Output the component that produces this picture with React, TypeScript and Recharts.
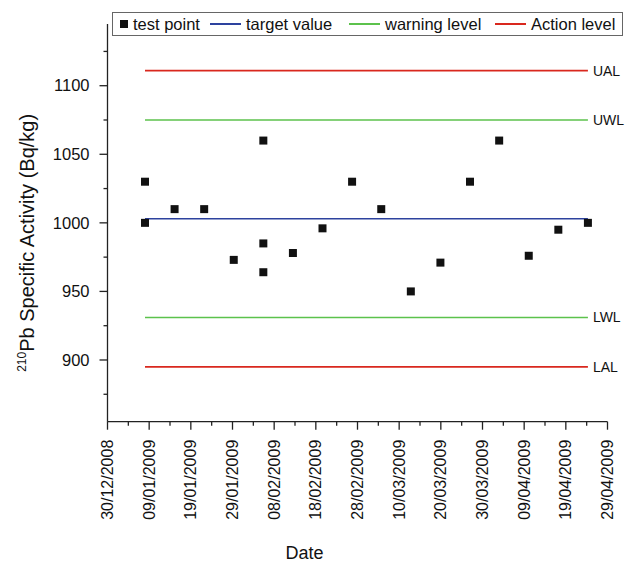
import React from 'react';
import { ComposedChart, Line, Scatter, XAxis, YAxis, Legend, Label } from 'recharts';

// days counted from 30/12/2008
const xMajorTicks = [0, 10, 20, 30, 40, 50, 60, 70, 80, 90, 100, 110, 120];
const xMinorTicks = [5, 15, 25, 35, 45, 55, 65, 75, 85, 95, 105, 115];
const xTickLabels = [
  '30/12/2008', '09/01/2009', '19/01/2009', '29/01/2009', '08/02/2009', '18/02/2009', '28/02/2009',
  '10/03/2009', '20/03/2009', '30/03/2009', '09/04/2009', '19/04/2009', '29/04/2009',
];
const yTicks = [875, 900, 925, 950, 975, 1000, 1025, 1050, 1075, 1100, 1125];

const testDays = [9, 9, 16.1, 23.2, 30.3, 37.4, 37.4, 37.4, 44.5, 51.6, 58.7, 65.7, 72.8, 79.9, 87, 94, 101.1, 108.2, 115.3];
const testValues = [1030, 1000, 1010, 1010, 973, 1060, 985, 964, 978, 996, 1030, 1010, 950, 971, 1030, 1060, 976, 995, 1000];

const targetValue = 1003;
const warningUpper = 1075;
const warningLower = 931;
const actionUpper = 1111;
const actionLower = 895;

const BLUE = '#2d429e';
const GREEN = '#5cc24c';
const RED = '#d9281e';
const FONT = '"Liberation Sans", Arial, sans-serif';

const points = testDays.map((d, i) => ({ day: d, value: testValues[i] }));
const levelRows = testDays.map((d) => ({
  day: d,
  target: targetValue,
  uwl: warningUpper,
  lwl: warningLower,
  ual: actionUpper,
  lal: actionLower,
}));

const levelSeries = [
  { key: 'ual', color: RED, tag: 'UAL' },
  { key: 'uwl', color: GREEN, tag: 'UWL' },
  { key: 'target', color: BLUE, tag: '' },
  { key: 'lwl', color: GREEN, tag: 'LWL' },
  { key: 'lal', color: RED, tag: 'LAL' },
];

const legendItems = [
  { name: 'test point', color: '#111', kind: 'square' },
  { name: 'target value', color: BLUE, kind: 'line' },
  { name: 'warning level', color: GREEN, kind: 'line' },
  { name: 'Action level', color: RED, kind: 'line' },
];
// left offset of each legend entry inside the box
const legendOffsets = [7, 97, 236, 382];

const XTick = (props: any) => {
  const { x, y, payload } = props;
  const v = payload.value;
  const idx = xMajorTicks.indexOf(v);
  const major = idx >= 0;
  const ty = y + 18;
  return (
    <g>
      <line x1={x} x2={x} y1={y} y2={y + (major ? 8 : 4)} stroke="#222" strokeWidth={1.3} />
      {major && (
        <text
          x={x}
          y={ty}
          dy="0.35em"
          transform={`rotate(-90 ${x} ${ty})`}
          textAnchor="end"
          fontSize={16}
          fontFamily={FONT}
          fill="#111"
        >
          {xTickLabels[idx]}
        </text>
      )}
    </g>
  );
};

const YTick = (props: any) => {
  const { x, y, payload } = props;
  const v = payload.value;
  const major = v % 50 === 0;
  return (
    <g>
      <line x1={x} x2={x - (major ? 8 : 4)} y1={y} y2={y} stroke="#222" strokeWidth={1.3} />
      {major && (
        <text x={x - 18} y={y} dy="0.35em" textAnchor="end" fontSize={16.5} fontFamily={FONT} fill="#111">
          {v}
        </text>
      )}
    </g>
  );
};

const renderLegend = () => (
  <div
    style={{
      position: 'relative',
      width: 511,
      height: 24,
      border: '1px solid #666',
      boxSizing: 'border-box',
      background: '#fff',
      fontFamily: FONT,
      fontSize: 16.5,
      color: '#111',
      whiteSpace: 'nowrap',
    }}
  >
    {legendItems.map((it, i) => (
      <span
        key={it.name}
        style={{ position: 'absolute', left: legendOffsets[i], top: 0, height: 22, display: 'flex', alignItems: 'center' }}
      >
        {it.kind === 'square' ? (
          <span style={{ width: 8, height: 8, background: it.color, display: 'inline-block' }} />
        ) : (
          <span style={{ width: 31, height: 2, background: it.color, display: 'inline-block' }} />
        )}
        <span style={{ marginLeft: 5 }}>{it.name}</span>
      </span>
    ))}
  </div>
);

const YLabel = (props: any) => {
  const vb = props.viewBox || { x: 0, y: 24, width: 107, height: 398 };
  const cx = vb.x + 34;
  const cy = vb.y + vb.height / 2 + 20;
  return (
    <text x={cx} y={cy} transform={`rotate(-90 ${cx} ${cy})`} textAnchor="middle" fontFamily={FONT} fill="#111" fontSize={20}>
      <tspan fontSize={12} dy={-8}>210</tspan>
      <tspan dy={8}>Pb Specific Activity (Bq/kg)</tspan>
    </text>
  );
};

const XLabel = (props: any) => {
  const vb = props.viewBox || { x: 107, y: 422, width: 500, height: 142 };
  return (
    <text x={vb.x + vb.width / 2 - 53} y={vb.y + vb.height - 5} textAnchor="middle" fontFamily={FONT} fill="#111" fontSize={18}>
      Date
    </text>
  );
};

export default function App() {
  const last = levelRows.length - 1;
  return (
    <div style={{ position: 'absolute', left: 0, top: 0, background: '#fff' }}>
      <ComposedChart width={629} height={564} data={levelRows} margin={{ top: 24, right: 21.5, bottom: 0, left: 0 }}>
        <XAxis
          type="number"
          dataKey="day"
          domain={[0, 120]}
          ticks={[...xMajorTicks, ...xMinorTicks].sort((a, b) => a - b)}
          interval={0}
          tick={<XTick />}
          tickLine={false}
          tickSize={0}
          tickMargin={0}
          height={142.3}
          axisLine={{ stroke: '#222', strokeWidth: 1.3 }}
        >
          <Label content={<XLabel />} />
        </XAxis>
        <YAxis
          type="number"
          domain={[855, 1145]}
          ticks={yTicks}
          interval={0}
          tick={<YTick />}
          tickLine={false}
          tickSize={0}
          tickMargin={0}
          width={107.5}
          axisLine={{ stroke: '#222', strokeWidth: 1.3 }}
        >
          <Label content={<YLabel />} />
        </YAxis>
        <Legend
          layout="vertical"
          align="center"
          verticalAlign="middle"
          content={renderLegend}
          wrapperStyle={{ position: 'absolute', top: 12, left: 112, width: 511, height: 24 }}
        />
        {levelSeries.map((s) => (
          <Line
            key={s.key}
            dataKey={s.key}
            stroke={s.color}
            strokeWidth={1.6}
            isAnimationActive={false}
            activeDot={false}
            legendType="none"
            dot={(p: any) =>
              p.index === last && s.tag ? (
                <text key={`${s.key}-tag`} x={p.cx + 5} y={p.cy} dy="0.35em" fontSize={14} fontFamily={FONT} fill="#111">
                  {s.tag}
                </text>
              ) : (
                <g key={`${s.key}-${p.index}`} />
              )
            }
          />
        ))}
        <Scatter data={points} dataKey="value" shape="square" fill="#111" isAnimationActive={false} />
      </ComposedChart>
    </div>
  );
}
